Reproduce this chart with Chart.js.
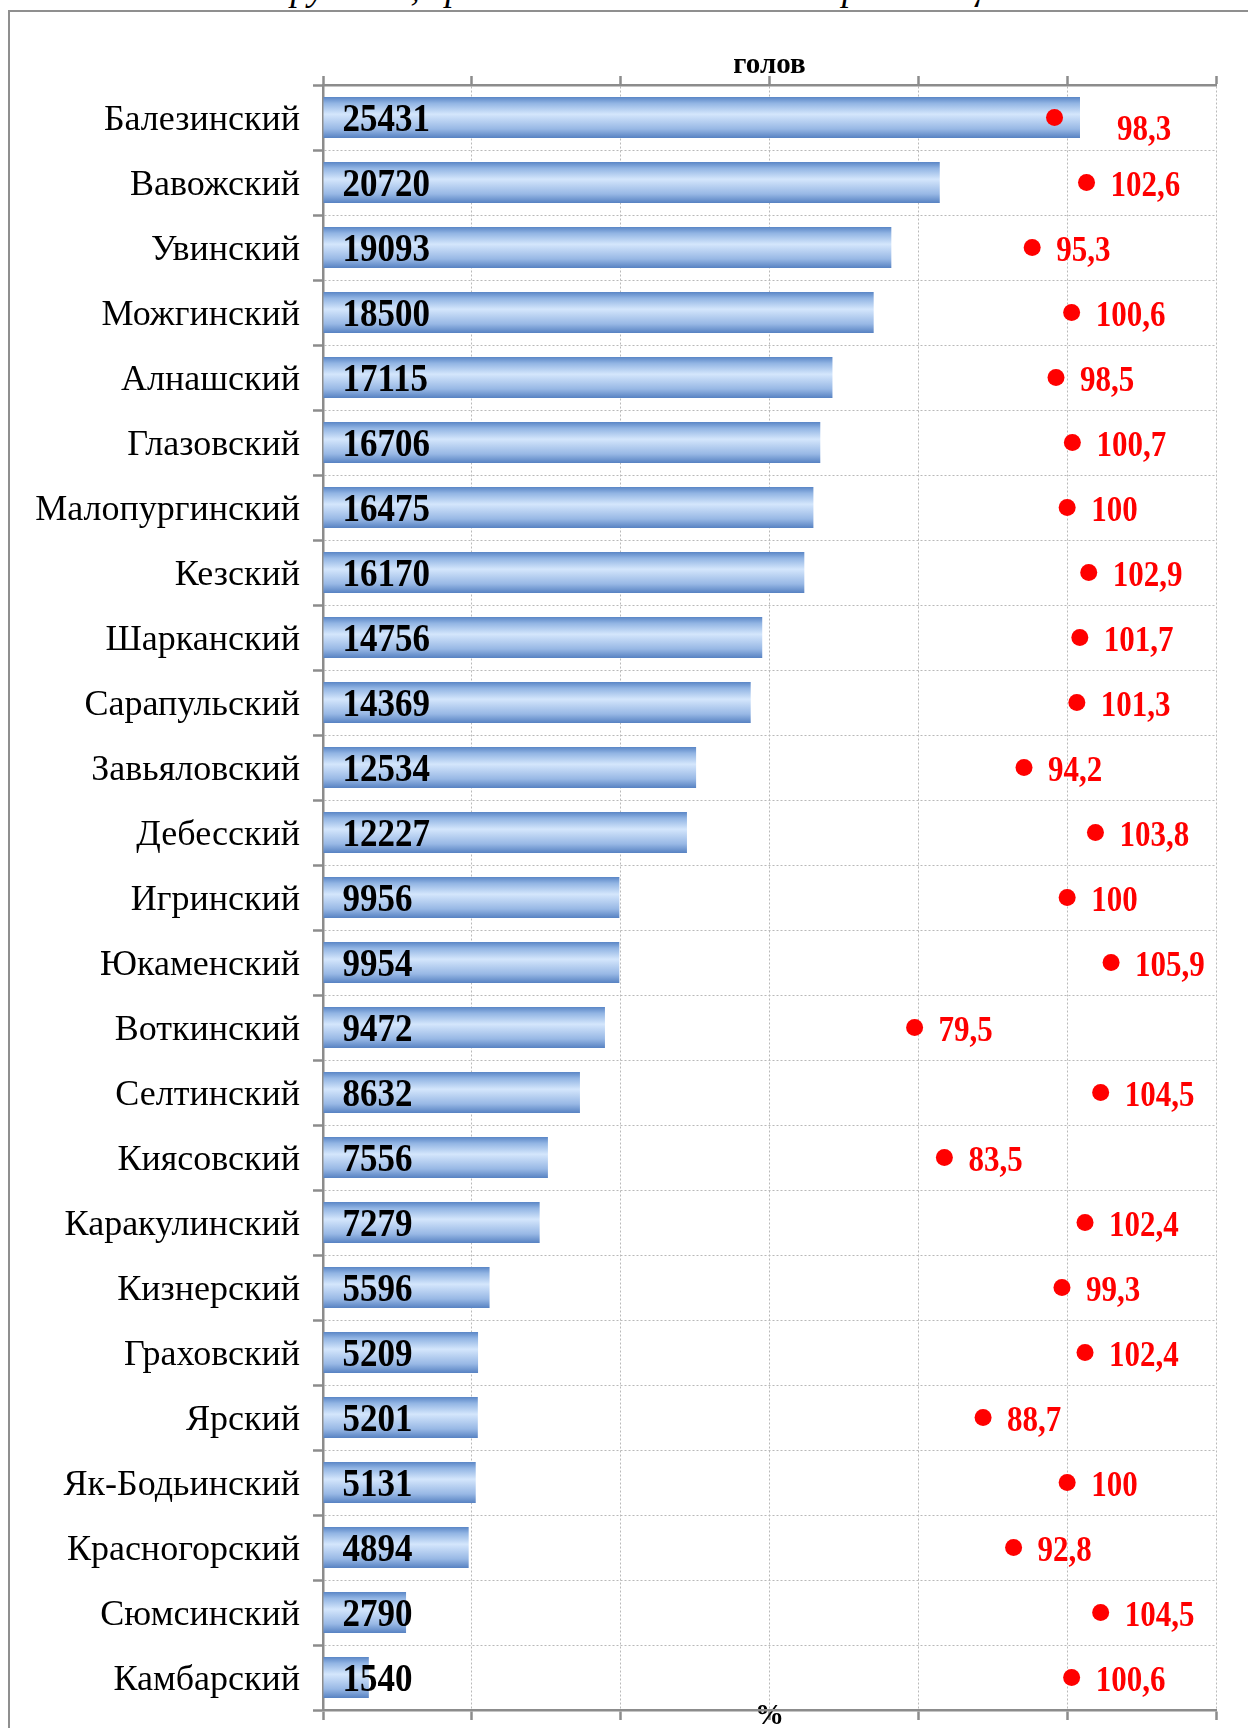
<!DOCTYPE html>
<html lang="ru">
<head>
<meta charset="utf-8">
<title>Поголовье по районам</title>
<script src="https://cdn.jsdelivr.net/npm/chart.js@4.4.0/dist/chart.umd.min.js"></script>
<style>
  html, body { margin: 0; padding: 0; background: #fff; overflow: hidden; }
  body { width: 1248px; height: 1728px; position: relative; }
  #caption {
    position: absolute; left: 0; top: -27px; width: 1268px;
    text-align: center; font: italic 37px/30px "Liberation Serif", "Times New Roman", serif;
    color: #000; white-space: nowrap;
  }
  #frame {
    position: absolute; left: 8px; top: 10px; width: 1400px; height: 1900px;
    border-left: 2px solid #8f8f8f; border-top: 2px solid #8f8f8f;
  }
  #chart { position: absolute; left: 0; top: 0; }
</style>
</head>
<body>
<div id="caption">по крупным, средним и малым сельхозорганизациям</div>
<div id="frame"></div>
<canvas id="chart" width="1248" height="1750"></canvas>
<script>
// districts, head counts and % to previous year
const districts = [
    'Балезинский', 'Вавожский', 'Увинский', 'Можгинский', 'Алнашский',
    'Глазовский', 'Малопургинский', 'Кезский', 'Шарканский', 'Сарапульский',
    'Завьяловский', 'Дебесский', 'Игринский', 'Юкаменский', 'Воткинский',
    'Селтинский', 'Киясовский', 'Каракулинский', 'Кизнерский', 'Граховский',
    'Ярский', 'Як-Бодьинский', 'Красногорский', 'Сюмсинский', 'Камбарский'
];
const heads = [
    25431, 20720, 19093, 18500, 17115,
    16706, 16475, 16170, 14756, 14369,
    12534, 12227, 9956, 9954, 9472,
    8632, 7556, 7279, 5596, 5209,
    5201, 5131, 4894, 2790, 1540
];
const percent = [
    98.3, 102.6, 95.3, 100.6, 98.5,
    100.7, 100, 102.9, 101.7, 101.3,
    94.2, 103.8, 100, 105.9, 79.5,
    104.5, 83.5, 102.4, 99.3, 102.4,
    88.7, 100, 92.8, 104.5, 100.6
];
const headsAxisTicks = [0, 30000, 5000];   // min, max, step
const percentAxisTicks = [0, 120, 20];

const SERIF = '"Liberation Serif", "Times New Roman", serif';
const AXIS_GREY = '#8c8c8c';
const GRID_GREY = '#b9b9b9';
const BAR_PCT = 0.63;

// vertical "cylinder" gradient for each bar
function barFill(context) {
    const chart = context.chart;
    const yScale = chart.scales.y;
    if (!chart.chartArea || !yScale || context.type !== 'data') return '#9dbbe3';
    const yc = yScale.getPixelForValue(context.dataIndex);
    const half = Math.abs(yScale.getPixelForValue(1) - yScale.getPixelForValue(0)) * BAR_PCT / 2;
    const g = chart.ctx.createLinearGradient(0, yc - half, 0, yc + half);
    g.addColorStop(0, '#5a86c6');
    g.addColorStop(0.15, '#91b4e3');
    g.addColorStop(0.42, '#d4e6fc');
    g.addColorStop(0.78, '#98b8e5');
    g.addColorStop(1, '#5782c2');
    return g;
}

// text stretched a little vertically, like in the original picture
function tallText(ctx, text, x, y, sy) {
    ctx.save();
    ctx.translate(x, y);
    ctx.scale(1, sy);
    ctx.fillText(text, 0, 0);
    ctx.restore();
}

const valueLabels = {
    id: 'valueLabels',
    afterDatasetsDraw(chart) {
        const ctx = chart.ctx;
        const barMeta = chart.getDatasetMeta(0);
        const dotMeta = chart.getDatasetMeta(1);
        ctx.save();
        ctx.textBaseline = 'middle';
        ctx.textAlign = 'left';

        ctx.font = 'bold 35px ' + SERIF;
        ctx.fillStyle = '#000';
        barMeta.data.forEach((bar, i) => {
            tallText(ctx, String(heads[i]), bar.base + 19, bar.y + 3, 1.13);
        });

        ctx.font = 'bold 31px ' + SERIF;
        ctx.fillStyle = '#ff0000';
        dotMeta.data.forEach((pt, i) => {
            const barEnd = barMeta.data[i].x;
            let x = pt.x + 24;
            let y = pt.y + 4;
            if (x < barEnd + 8) { x = barEnd + 37; y += 9; }
            tallText(ctx, String(percent[i]).replace('.', ','), x, y, 1.15);
        });
        ctx.restore();
    }
};

const ctx = document.getElementById('chart').getContext('2d');
const districtChart = new Chart(ctx, {
    type: 'bar',
    data: {
        labels: districts,
        datasets: [
            {
                type: 'bar',
                label: 'голов',
                data: heads,
                xAxisID: 'x',
                yAxisID: 'y',
                indexAxis: 'y',
                backgroundColor: barFill,
                borderWidth: 0,
                barPercentage: BAR_PCT,
                categoryPercentage: 1,
                order: 2
            },
            {
                type: 'line',
                label: '%',
                data: percent,
                xAxisID: 'x2',
                yAxisID: 'y',
                indexAxis: 'y',
                showLine: false,
                pointRadius: 8.5,
                pointBackgroundColor: '#ff0000',
                pointBorderWidth: 0,
                pointBorderColor: '#ff0000',
                order: 1
            }
        ]
    },
    options: {
        indexAxis: 'y',
        responsive: false,
        animation: false,
        layout: { padding: { left: 0, right: 32, top: 0, bottom: 0 } },
        plugins: {
            legend: { display: false },
            tooltip: { enabled: false }
        },
        scales: {
            x: {
                position: 'top',
                min: headsAxisTicks[0],
                max: headsAxisTicks[1],
                ticks: { stepSize: headsAxisTicks[2], display: false },
                grid: {
                    color: GRID_GREY, lineWidth: 1,
                    tickColor: AXIS_GREY, tickWidth: 2.5, tickLength: 9,
                    tickBorderDash: []
                },
                border: { color: AXIS_GREY, width: 2.5, dash: [2, 2] },
                title: {
                    display: true, text: 'голов', color: '#000',
                    font: { family: SERIF, size: 29, weight: 'bold', lineHeight: 1.2 },
                    padding: { top: 48, bottom: 0 }
                },
                afterFit(scale) { scale.height = 85; }
            },
            x2: {
                position: 'bottom',
                min: percentAxisTicks[0],
                max: percentAxisTicks[1],
                ticks: { stepSize: percentAxisTicks[2], display: false },
                grid: {
                    drawOnChartArea: false,
                    tickColor: AXIS_GREY, tickWidth: 2.5, tickLength: 10
                },
                border: { color: AXIS_GREY, width: 2.5 },
                title: {
                    display: true, text: '%', color: '#000',
                    font: { family: SERIF, size: 29, weight: 'bold', lineHeight: 1.2 },
                    padding: { top: 0, bottom: 16 }
                },
                afterFit(scale) { scale.height = 40; }
            },
            y: {
                position: 'left',
                ticks: {
                    color: '#000',
                    padding: 13,
                    labelOffset: 3,
                    font: { family: SERIF, size: 36 },
                    z: 1
                },
                grid: {
                    color: GRID_GREY, lineWidth: 1,
                    tickColor: AXIS_GREY, tickWidth: 2.5, tickLength: 10,
                    tickBorderDash: []
                },
                border: { color: AXIS_GREY, width: 2.5, dash: [2, 2] },
                afterFit(scale) { scale.width = 323; }
            }
        }
    },
    plugins: [valueLabels]
});
</script>
</body>
</html>
